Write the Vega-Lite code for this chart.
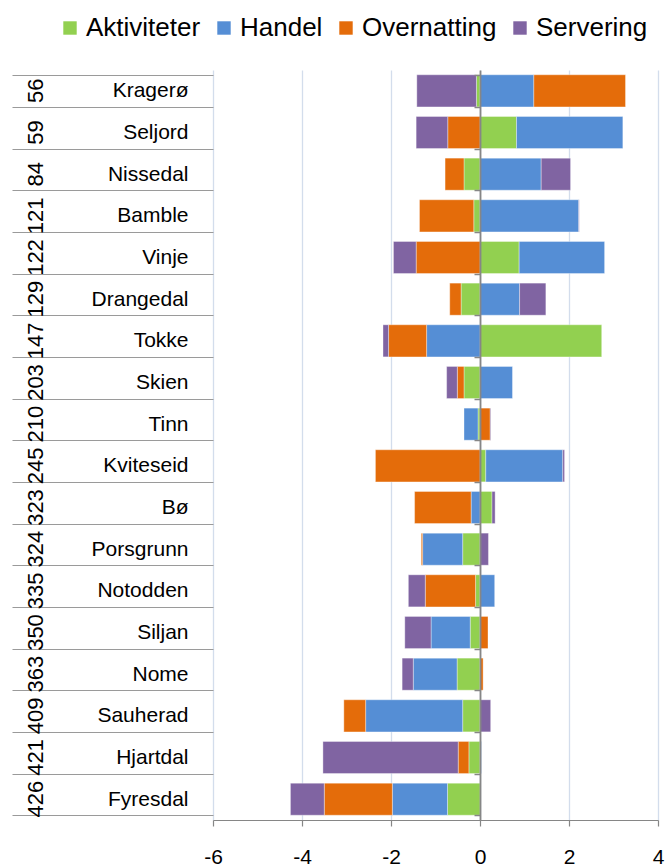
{
  "$schema": "https://vega.github.io/schema/vega-lite/v6.json",
  "autosize": {"type": "none"},
  "padding": {"left": 213, "top": 70, "right": 7, "bottom": 46},
  "width": 445,
  "height": 750,
  "background": "white",
  "config": {
    "font": "Liberation Sans",
    "view": {"stroke": null},
    "axis": {"labelColor": "#000000", "labelFont": "Liberation Sans"},
    "legend": {"labelFont": "Liberation Sans"}
  },
  "data": {
    "values": [
      {"kommune": "56|Kragerø", "serie": "Aktiviteter", "verdi": -0.08},
      {"kommune": "56|Kragerø", "serie": "Handel", "verdi": 1.21},
      {"kommune": "56|Kragerø", "serie": "Overnatting", "verdi": 2.06},
      {"kommune": "56|Kragerø", "serie": "Servering", "verdi": -1.34},
      {"kommune": "59|Seljord", "serie": "Aktiviteter", "verdi": 0.82},
      {"kommune": "59|Seljord", "serie": "Handel", "verdi": 2.39},
      {"kommune": "59|Seljord", "serie": "Overnatting", "verdi": -0.725},
      {"kommune": "59|Seljord", "serie": "Servering", "verdi": -0.71},
      {"kommune": "84|Nissedal", "serie": "Aktiviteter", "verdi": -0.36},
      {"kommune": "84|Nissedal", "serie": "Handel", "verdi": 1.375},
      {"kommune": "84|Nissedal", "serie": "Overnatting", "verdi": -0.425},
      {"kommune": "84|Nissedal", "serie": "Servering", "verdi": 0.66},
      {"kommune": "121|Bamble", "serie": "Aktiviteter", "verdi": -0.14},
      {"kommune": "121|Bamble", "serie": "Handel", "verdi": 2.22},
      {"kommune": "121|Bamble", "serie": "Overnatting", "verdi": -1.22},
      {"kommune": "121|Bamble", "serie": "Servering", "verdi": 0.01},
      {"kommune": "122|Vinje", "serie": "Aktiviteter", "verdi": 0.88},
      {"kommune": "122|Vinje", "serie": "Handel", "verdi": 1.92},
      {"kommune": "122|Vinje", "serie": "Overnatting", "verdi": -1.435},
      {"kommune": "122|Vinje", "serie": "Servering", "verdi": -0.51},
      {"kommune": "129|Drangedal", "serie": "Aktiviteter", "verdi": -0.425},
      {"kommune": "129|Drangedal", "serie": "Handel", "verdi": 0.89},
      {"kommune": "129|Drangedal", "serie": "Overnatting", "verdi": -0.255},
      {"kommune": "129|Drangedal", "serie": "Servering", "verdi": 0.59},
      {"kommune": "147|Tokke", "serie": "Aktiviteter", "verdi": 2.735},
      {"kommune": "147|Tokke", "serie": "Handel", "verdi": -1.2},
      {"kommune": "147|Tokke", "serie": "Overnatting", "verdi": -0.855},
      {"kommune": "147|Tokke", "serie": "Servering", "verdi": -0.125},
      {"kommune": "203|Skien", "serie": "Aktiviteter", "verdi": -0.36},
      {"kommune": "203|Skien", "serie": "Handel", "verdi": 0.73},
      {"kommune": "203|Skien", "serie": "Overnatting", "verdi": -0.15},
      {"kommune": "203|Skien", "serie": "Servering", "verdi": -0.24},
      {"kommune": "210|Tinn", "serie": "Aktiviteter", "verdi": -0.045},
      {"kommune": "210|Tinn", "serie": "Handel", "verdi": -0.315},
      {"kommune": "210|Tinn", "serie": "Overnatting", "verdi": 0.23},
      {"kommune": "210|Tinn", "serie": "Servering", "verdi": 0.015},
      {"kommune": "245|Kviteseid", "serie": "Aktiviteter", "verdi": 0.13},
      {"kommune": "245|Kviteseid", "serie": "Handel", "verdi": 1.73},
      {"kommune": "245|Kviteseid", "serie": "Overnatting", "verdi": -2.35},
      {"kommune": "245|Kviteseid", "serie": "Servering", "verdi": 0.04},
      {"kommune": "323|Bø", "serie": "Aktiviteter", "verdi": 0.27},
      {"kommune": "323|Bø", "serie": "Handel", "verdi": -0.2},
      {"kommune": "323|Bø", "serie": "Overnatting", "verdi": -1.27},
      {"kommune": "323|Bø", "serie": "Servering", "verdi": 0.07},
      {"kommune": "324|Porsgrunn", "serie": "Aktiviteter", "verdi": -0.39},
      {"kommune": "324|Porsgrunn", "serie": "Handel", "verdi": -0.9},
      {"kommune": "324|Porsgrunn", "serie": "Overnatting", "verdi": -0.03},
      {"kommune": "324|Porsgrunn", "serie": "Servering", "verdi": 0.19},
      {"kommune": "335|Notodden", "serie": "Aktiviteter", "verdi": -0.1},
      {"kommune": "335|Notodden", "serie": "Handel", "verdi": 0.33},
      {"kommune": "335|Notodden", "serie": "Overnatting", "verdi": -1.13},
      {"kommune": "335|Notodden", "serie": "Servering", "verdi": -0.38},
      {"kommune": "350|Siljan", "serie": "Aktiviteter", "verdi": -0.22},
      {"kommune": "350|Siljan", "serie": "Handel", "verdi": -0.88},
      {"kommune": "350|Siljan", "serie": "Overnatting", "verdi": 0.18},
      {"kommune": "350|Siljan", "serie": "Servering", "verdi": -0.59},
      {"kommune": "363|Nome", "serie": "Aktiviteter", "verdi": -0.515},
      {"kommune": "363|Nome", "serie": "Handel", "verdi": -0.985},
      {"kommune": "363|Nome", "serie": "Overnatting", "verdi": 0.07},
      {"kommune": "363|Nome", "serie": "Servering", "verdi": -0.25},
      {"kommune": "409|Sauherad", "serie": "Aktiviteter", "verdi": -0.39},
      {"kommune": "409|Sauherad", "serie": "Handel", "verdi": -2.18},
      {"kommune": "409|Sauherad", "serie": "Overnatting", "verdi": -0.49},
      {"kommune": "409|Sauherad", "serie": "Servering", "verdi": 0.24},
      {"kommune": "421|Hjartdal", "serie": "Aktiviteter", "verdi": -0.25},
      {"kommune": "421|Hjartdal", "serie": "Handel", "verdi": 0.03},
      {"kommune": "421|Hjartdal", "serie": "Overnatting", "verdi": -0.24},
      {"kommune": "421|Hjartdal", "serie": "Servering", "verdi": -3.04},
      {"kommune": "426|Fyresdal", "serie": "Aktiviteter", "verdi": -0.73},
      {"kommune": "426|Fyresdal", "serie": "Handel", "verdi": -1.24},
      {"kommune": "426|Fyresdal", "serie": "Overnatting", "verdi": -1.53},
      {"kommune": "426|Fyresdal", "serie": "Servering", "verdi": -0.76}
    ]
  },
  "layer": [
    {
      "mark": {"type": "bar", "stroke": "#ffffff", "strokeWidth": 0.6, "strokeOpacity": 0.6},
      "encoding": {
        "y": {
          "field": "kommune", "type": "nominal", "sort": null,
          "scale": {"paddingInner": 0.23, "paddingOuter": 0.115},
          "axis": {
            "orient": "left", "title": null, "domain": false, "grid": false,
            "tickBand": "extent", "tickSize": 201, "tickColor": "#9a9a9a", "tickWidth": 1.2,
            "labelExpr": "split(datum.label, '|')[1]",
            "labelFontSize": 21, "labelPadding": -176, "labelAlign": "right", "labelBaseline": "middle",
            "labelColor": "#000000"
          }
        },
        "x": {
          "field": "verdi", "type": "quantitative", "stack": "zero",
          "scale": {"domain": [-6, 4], "nice": false, "zero": false},
          "axis": {
            "title": null, "values": [-6, -4, -2, 0, 2, 4], "grid": true,
            "labelExpr": "'' + datum.value",
            "gridColor": "#d3ddec", "gridWidth": 1.3, "domainColor": "#868686", "domainWidth": 1.2,
            "tickColor": "#868686", "tickSize": 6, "tickWidth": 1.2,
            "labelFontSize": 21, "labelPadding": 20, "labelColor": "#000000", "labelFlush": false
          }
        },
        "color": {
          "field": "serie", "type": "nominal",
          "scale": {
            "domain": ["Aktiviteter", "Handel", "Overnatting", "Servering"],
            "range": ["#92d050", "#558ed5", "#e46c0a", "#8064a2"]
          },
          "legend": {
            "title": null, "orient": "none", "legendX": -156, "legendY": -55,
            "direction": "horizontal", "symbolType": "square", "symbolSize": 180,
            "symbolStrokeWidth": 0, "labelFontSize": 26, "labelOffset": 3, "columnPadding": 10,
            "labelColor": "#000000"
          }
        },
        "order": {"field": "serie", "sort": "ascending"}
      }
    },
    {
      "mark": {"type": "rule", "opacity": 0},
      "encoding": {
        "y": {
          "field": "kommune", "type": "nominal", "sort": null,
          "axis": {
            "orient": "left", "title": null, "domain": false, "ticks": false, "grid": false,
            "labelExpr": "split(datum.label, '|')[0]",
            "labelAngle": 270, "labelAlign": "center", "labelBaseline": "alphabetic",
            "labelFontSize": 22, "labelPadding": 171, "labelColor": "#000000"
          }
        },
        "x": {"datum": 0}
      }
    },
    {
      "mark": {"type": "rule", "opacity": 0},
      "encoding": {
        "y": {
          "field": "kommune", "type": "nominal", "sort": null,
          "axis": {
            "orient": "left", "offset": -267, "title": null, "labels": false, "grid": false,
            "domain": true, "domainColor": "#868686", "domainWidth": 1.8,
            "tickBand": "extent", "tickSize": 6, "tickColor": "#868686", "tickWidth": 1.5,
            "zindex": 2
          }
        },
        "x": {"datum": 0}
      }
    }
  ],
  "resolve": {"axis": {"y": "independent"}}
}
